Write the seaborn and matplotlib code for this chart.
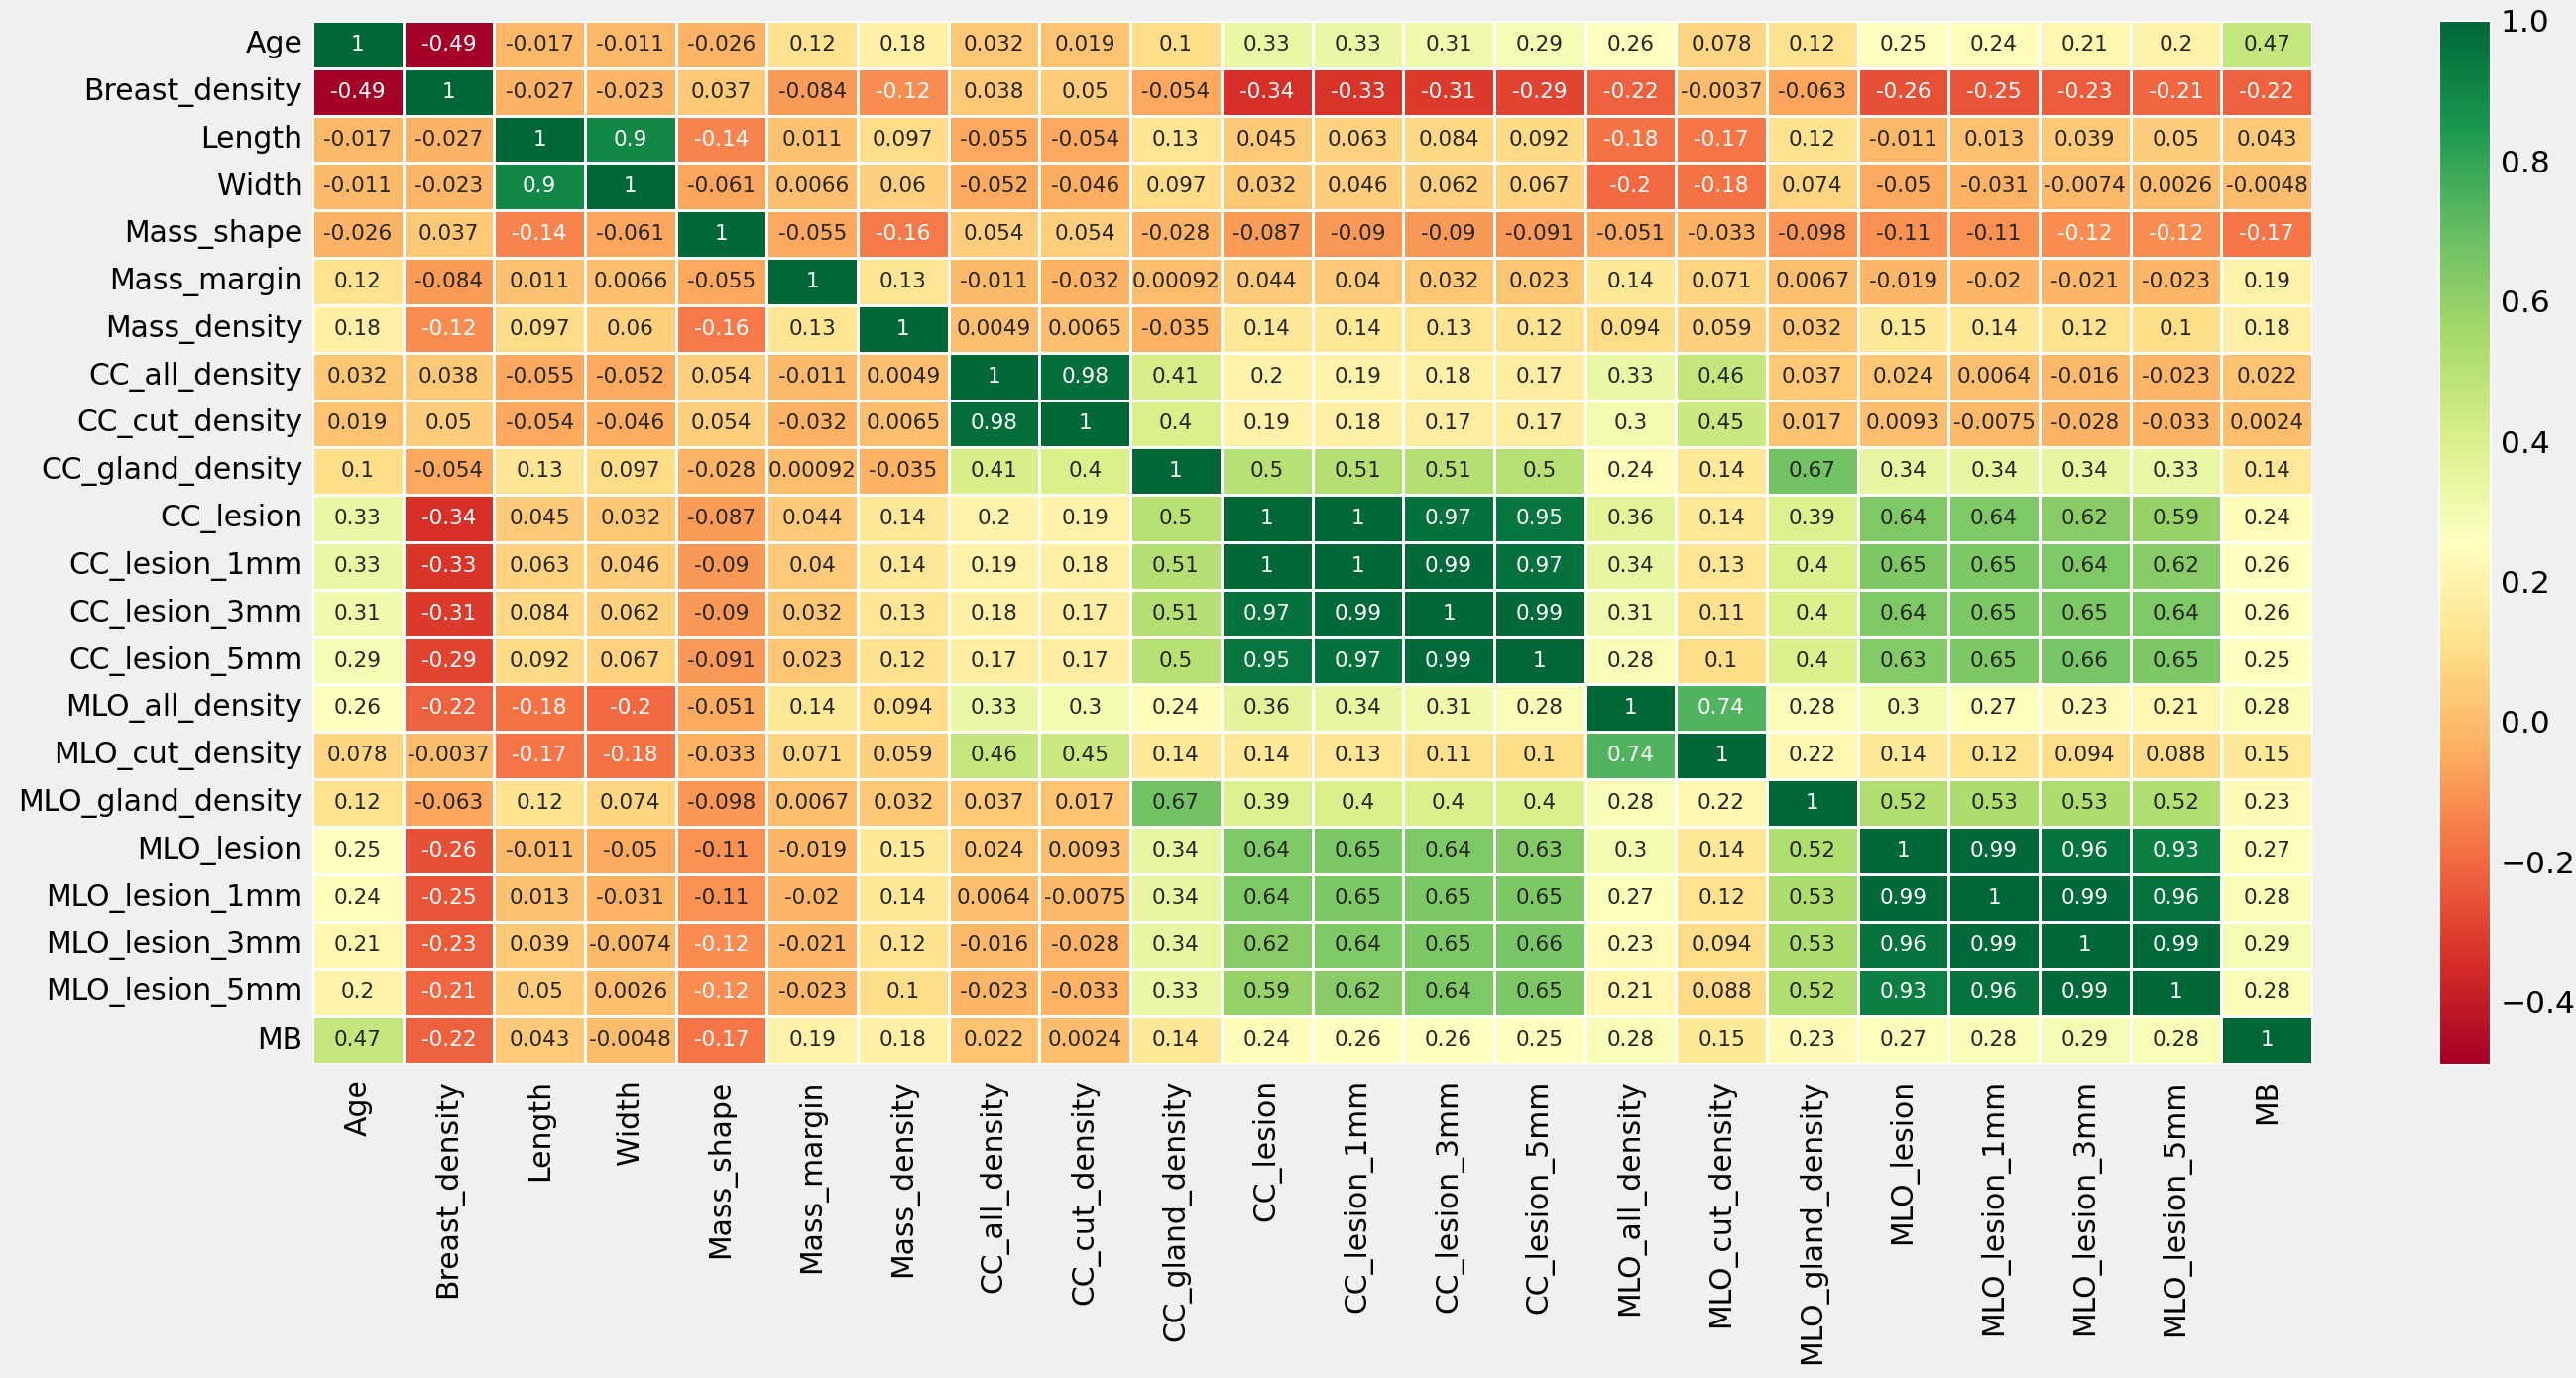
import numpy as np
import pandas as pd
import matplotlib
matplotlib.use("Agg")
import matplotlib.pyplot as plt
import seaborn as sns

features = ['Age', 'Breast_density', 'Length', 'Width', 'Mass_shape', 'Mass_margin',
            'Mass_density', 'CC_all_density', 'CC_cut_density', 'CC_gland_density',
            'CC_lesion', 'CC_lesion_1mm', 'CC_lesion_3mm', 'CC_lesion_5mm',
            'MLO_all_density', 'MLO_cut_density', 'MLO_gland_density', 'MLO_lesion',
            'MLO_lesion_1mm', 'MLO_lesion_3mm', 'MLO_lesion_5mm', 'MB']

# correlation rows
age = [1, -0.49, -0.017, -0.011, -0.026, 0.12, 0.18, 0.032, 0.019, 0.1, 0.33, 0.33, 0.31, 0.29, 0.26, 0.078, 0.12, 0.25, 0.24, 0.21, 0.2, 0.47]
breast_density = [-0.49, 1, -0.027, -0.023, 0.037, -0.084, -0.12, 0.038, 0.05, -0.054, -0.34, -0.33, -0.31, -0.29, -0.22, -0.0037, -0.063, -0.26, -0.25, -0.23, -0.21, -0.22]
length = [-0.017, -0.027, 1, 0.9, -0.14, 0.011, 0.097, -0.055, -0.054, 0.13, 0.045, 0.063, 0.084, 0.092, -0.18, -0.17, 0.12, -0.011, 0.013, 0.039, 0.05, 0.043]
width = [-0.011, -0.023, 0.9, 1, -0.061, 0.0066, 0.06, -0.052, -0.046, 0.097, 0.032, 0.046, 0.062, 0.067, -0.2, -0.18, 0.074, -0.05, -0.031, -0.0074, 0.0026, -0.0048]
mass_shape = [-0.026, 0.037, -0.14, -0.061, 1, -0.055, -0.16, 0.054, 0.054, -0.028, -0.087, -0.09, -0.09, -0.091, -0.051, -0.033, -0.098, -0.11, -0.11, -0.12, -0.12, -0.17]
mass_margin = [0.12, -0.084, 0.011, 0.0066, -0.055, 1, 0.13, -0.011, -0.032, 0.00092, 0.044, 0.04, 0.032, 0.023, 0.14, 0.071, 0.0067, -0.019, -0.02, -0.021, -0.023, 0.19]
mass_density = [0.18, -0.12, 0.097, 0.06, -0.16, 0.13, 1, 0.0049, 0.0065, -0.035, 0.14, 0.14, 0.13, 0.12, 0.094, 0.059, 0.032, 0.15, 0.14, 0.12, 0.1, 0.18]
cc_all_density = [0.032, 0.038, -0.055, -0.052, 0.054, -0.011, 0.0049, 1, 0.98, 0.41, 0.2, 0.19, 0.18, 0.17, 0.33, 0.46, 0.037, 0.024, 0.0064, -0.016, -0.023, 0.022]
cc_cut_density = [0.019, 0.05, -0.054, -0.046, 0.054, -0.032, 0.0065, 0.98, 1, 0.4, 0.19, 0.18, 0.17, 0.17, 0.3, 0.45, 0.017, 0.0093, -0.0075, -0.028, -0.033, 0.0024]
cc_gland_density = [0.1, -0.054, 0.13, 0.097, -0.028, 0.00092, -0.035, 0.41, 0.4, 1, 0.5, 0.51, 0.51, 0.5, 0.24, 0.14, 0.67, 0.34, 0.34, 0.34, 0.33, 0.14]
cc_lesion = [0.33, -0.34, 0.045, 0.032, -0.087, 0.044, 0.14, 0.2, 0.19, 0.5, 1, 1, 0.97, 0.95, 0.36, 0.14, 0.39, 0.64, 0.64, 0.62, 0.59, 0.24]
cc_lesion_1mm = [0.33, -0.33, 0.063, 0.046, -0.09, 0.04, 0.14, 0.19, 0.18, 0.51, 1, 1, 0.99, 0.97, 0.34, 0.13, 0.4, 0.65, 0.65, 0.64, 0.62, 0.26]
cc_lesion_3mm = [0.31, -0.31, 0.084, 0.062, -0.09, 0.032, 0.13, 0.18, 0.17, 0.51, 0.97, 0.99, 1, 0.99, 0.31, 0.11, 0.4, 0.64, 0.65, 0.65, 0.64, 0.26]
cc_lesion_5mm = [0.29, -0.29, 0.092, 0.067, -0.091, 0.023, 0.12, 0.17, 0.17, 0.5, 0.95, 0.97, 0.99, 1, 0.28, 0.1, 0.4, 0.63, 0.65, 0.66, 0.65, 0.25]
mlo_all_density = [0.26, -0.22, -0.18, -0.2, -0.051, 0.14, 0.094, 0.33, 0.3, 0.24, 0.36, 0.34, 0.31, 0.28, 1, 0.74, 0.28, 0.3, 0.27, 0.23, 0.21, 0.28]
mlo_cut_density = [0.078, -0.0037, -0.17, -0.18, -0.033, 0.071, 0.059, 0.46, 0.45, 0.14, 0.14, 0.13, 0.11, 0.1, 0.74, 1, 0.22, 0.14, 0.12, 0.094, 0.088, 0.15]
mlo_gland_density = [0.12, -0.063, 0.12, 0.074, -0.098, 0.0067, 0.032, 0.037, 0.017, 0.67, 0.39, 0.4, 0.4, 0.4, 0.28, 0.22, 1, 0.52, 0.53, 0.53, 0.52, 0.23]
mlo_lesion = [0.25, -0.26, -0.011, -0.05, -0.11, -0.019, 0.15, 0.024, 0.0093, 0.34, 0.64, 0.65, 0.64, 0.63, 0.3, 0.14, 0.52, 1, 0.99, 0.96, 0.93, 0.27]
mlo_lesion_1mm = [0.24, -0.25, 0.013, -0.031, -0.11, -0.02, 0.14, 0.0064, -0.0075, 0.34, 0.64, 0.65, 0.65, 0.65, 0.27, 0.12, 0.53, 0.99, 1, 0.99, 0.96, 0.28]
mlo_lesion_3mm = [0.21, -0.23, 0.039, -0.0074, -0.12, -0.021, 0.12, -0.016, -0.028, 0.34, 0.62, 0.64, 0.65, 0.66, 0.23, 0.094, 0.53, 0.96, 0.99, 1, 0.99, 0.29]
mlo_lesion_5mm = [0.2, -0.21, 0.05, 0.0026, -0.12, -0.023, 0.1, -0.023, -0.033, 0.33, 0.59, 0.62, 0.64, 0.65, 0.21, 0.088, 0.52, 0.93, 0.96, 0.99, 1, 0.28]
mb = [0.47, -0.22, 0.043, -0.0048, -0.17, 0.19, 0.18, 0.022, 0.0024, 0.14, 0.24, 0.26, 0.26, 0.25, 0.28, 0.15, 0.23, 0.27, 0.28, 0.29, 0.28, 1]

rows = [age, breast_density, length, width, mass_shape, mass_margin, mass_density,
        cc_all_density, cc_cut_density, cc_gland_density, cc_lesion, cc_lesion_1mm,
        cc_lesion_3mm, cc_lesion_5mm, mlo_all_density, mlo_cut_density,
        mlo_gland_density, mlo_lesion, mlo_lesion_1mm, mlo_lesion_3mm,
        mlo_lesion_5mm, mb]
corr = pd.DataFrame(rows, index=features, columns=features)

bg = '#f0f0f0'
fig = plt.figure(figsize=(25.98, 13.90), dpi=100, facecolor=bg)
W, H = 2598, 1390
ax = fig.add_axes([315 / W, 1 - 1073 / H, (2332 - 315) / W, (1073 - 21) / H])
cax = fig.add_axes([2460 / W, 1 - 1074 / H, (2512 - 2460) / W, (1074 - 21) / H])
ax.set_facecolor(bg)

sns.heatmap(corr, annot=True, fmt='.2g', cmap='RdYlGn', linewidths=2, linecolor='white',
            annot_kws={'size': 15.5}, ax=ax, cbar_ax=cax)

ax.tick_params(axis='both', length=0, labelsize=21.5)
ax.tick_params(axis='y', pad=7)
ax.tick_params(axis='x', pad=11)
plt.setp(ax.get_xticklabels(), rotation=90)
plt.setp(ax.get_yticklabels(), rotation=0)

cbar = ax.collections[0].colorbar
cbar.set_ticks([-0.4, -0.2, 0.0, 0.2, 0.4, 0.6, 0.8, 1.0])
cbar.ax.tick_params(length=0, labelsize=22.5, pad=7)
cbar.outline.set_edgecolor('white')
cbar.outline.set_linewidth(1.5)

plt.savefig("out.png", dpi=100, facecolor=bg)
plt.close()
